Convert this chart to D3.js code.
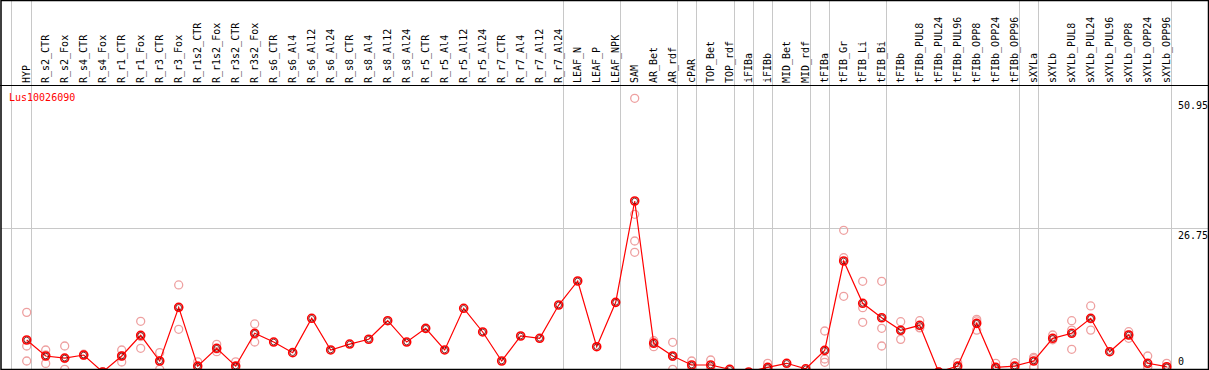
<!DOCTYPE html>
<html><head><meta charset="utf-8">
<script src="https://cdn.jsdelivr.net/npm/d3@7"></script>
<style>body{margin:0;background:#fff}svg{display:block}text{font-family:"DejaVu Sans Mono",monospace;font-size:10px}</style>
</head><body><svg id="c" width="1209" height="370"></svg>
<script>
const categories = ["HYP","R_s2_CTR","R_s2_Fox","R_s4_CTR","R_s4_Fox","R_r1_CTR","R_r1_Fox","R_r3_CTR","R_r3_Fox","R_r1s2_CTR","R_r1s2_Fox","R_r3s2_CTR","R_r3s2_Fox","R_s6_CTR","R_s6_Al4","R_s6_Al12","R_s6_Al24","R_s8_CTR","R_s8_Al4","R_s8_Al12","R_s8_Al24","R_r5_CTR","R_r5_Al4","R_r5_Al12","R_r5_Al24","R_r7_CTR","R_r7_Al4","R_r7_Al12","R_r7_Al24","LEAF_N","LEAF_P","LEAF_NPK","SAM","AR_Bet","AR_rdf","cPAR","TOP_Bet","TOP_rdf","iFIBa","iFIBb","MID_Bet","MID_rdf","tFIBa","tFIB_Gr","tFIB_Li","tFIB_Bi","tFIBb","tFIBb_PUL8","tFIBb_PUL24","tFIBb_PUL96","tFIBb_OPP8","tFIBb_OPP24","tFIBb_OPP96","sXYLa","sXYLb","sXYLb_PUL8","sXYLb_PUL24","sXYLb_PUL96","sXYLb_OPP8","sXYLb_OPP24","sXYLb_OPP96"];
const means = [5.96,2.98,2.6,3.16,0,2.98,6.83,2.05,12.04,1.1,4.41,1.1,7.2,5.58,3.6,10.0,4.1,5.2,6.1,9.55,5.58,8.13,4.1,11.86,7.45,2.05,6.7,6.27,12.47,16.94,4.71,12.97,31.83,5.34,2.98,1.3,1.3,0.5,0,0.87,1.62,0.6,4.03,20.66,12.79,10.1,7.76,8.69,0,1.1,9.06,0.87,1.1,2.05,6.27,7.2,10.0,3.78,6.89,1.62,0.99];
const replicates = {
  "HYP":[11.1,4.84,2.05], "R_s2_CTR":[4.1,1.6,3.2], "R_s2_Fox":[4.84,0.5,2.5], "R_s4_CTR":[3.3,3.1],
  "R_s4_Fox":[0,0], "R_r1_CTR":[4.1,1.86,3.0], "R_r1_Fox":[9.44,4.41,6.6], "R_r3_CTR":[3.6,0.5,2.0],
  "R_r3_Fox":[16.2,7.95,12.0], "R_r1s2_CTR":[1.9,0.7], "R_r1s2_Fox":[5.16,3.78,4.3], "R_r3s2_CTR":[1.9,0.7],
  "R_r3s2_Fox":[8.94,5.58,7.1], "SAM":[50.95,29.36,24.39,22.28], "AR_Bet":[5.83,4.71,5.5],
  "AR_rdf":[5.53,0.5,2.9], "cPAR":[2.05,0.9], "TOP_Bet":[2.23,0.8], "TOP_rdf":[0.5], "iFIBb":[1.6,0.5],
  "tFIBa":[7.63,2.42,1.8], "tFIB_Gr":[26.38,21.28,14.09], "tFIB_Li":[16.88,11.97,9.25],
  "tFIB_Bi":[16.88,8.13,4.84], "tFIBb":[9.37,6.08,7.8], "tFIBb_PUL8":[9.55,8.3,8.2], "tFIBb_PUL24":[0,0],
  "tFIBb_PUL96":[1.73,0.8], "tFIBb_OPP8":[9.8,7.8,9.5], "tFIBb_OPP24":[1.62,0.5], "tFIBb_OPP96":[1.73,0.6],
  "sXYLa":[2.73,0.87,2.5], "sXYLb":[6.89,6.0], "sXYLb_PUL8":[9.55,4.22,7.8], "sXYLb_PUL24":[12.3,7.8,9.9],
  "sXYLb_OPP8":[7.5,6.27,6.9], "sXYLb_OPP24":[2.98,1.0,0.9], "sXYLb_OPP96":[1.62,0.7]
};
const separatorsAfter = ["HYP","R_r7_Al24","LEAF_NPK","AR_rdf","cPAR","TOP_rdf","iFIBa","iFIBb","MID_rdf","tFIBa","tFIB_Bi","tFIBb_OPP96","sXYLa","sXYLb_OPP96"];
const yTicks = [0, 26.75, 50.95];
const gridTicks = [26.75];
const geneName = "Lus10026090";

const svg = d3.select("#c");
const W = 1209, H = 370, headerY = 85.5, bottomY = 369.5;
const x = d3.scalePoint().domain(categories).range([26.7, 1166.7]);
const y = d3.scaleLinear().domain([0, 50.95]).range([372, 98.3]);

// horizontal grid
svg.selectAll("line.hg").data(gridTicks).enter().append("line")
  .attr("x1", 1).attr("x2", W - 1)
  .attr("y1", d => Math.round(y(d)) + 0.5).attr("y2", d => Math.round(y(d)) + 0.5)
  .attr("stroke", "#c8c8c8").attr("stroke-width", 1);

// vertical separators
const sepX = [x("HYP") - 15.7].concat(separatorsAfter.map(c => x(c) + 4.3));
svg.selectAll("line.vg").data(sepX).enter().append("line")
  .attr("x1", d => Math.round(d) + 0.5).attr("x2", d => Math.round(d) + 0.5)
  .attr("y1", 0).attr("y2", H)
  .attr("stroke", "#c8c8c8").attr("stroke-width", 1);

// header labels
svg.selectAll("text.cat").data(categories).enter().append("text")
  .attr("transform", d => `translate(${x(d) + 3.5},83) rotate(-90)`)
  .attr("fill", "#000").text(d => d);

// y labels
svg.selectAll("text.yl").data(yTicks).enter().append("text")
  .attr("x", d => d === 0 ? 1178 : 1208)
  .attr("text-anchor", d => d === 0 ? "start" : "end")
  .attr("y", d => Math.min(y(d) + 11, 365))
  .attr("fill", "#000").text(d => d === 0 ? "0" : d.toFixed(2));

// replicate points
const repPts = [];
categories.forEach(c => (replicates[c] || []).forEach(v => repPts.push({c, v})));
svg.selectAll("circle.rep").data(repPts).enter().append("circle")
  .attr("cx", d => x(d.c)).attr("cy", d => y(d.v)).attr("r", 4)
  .attr("fill", "none").attr("stroke", "#eea0a0").attr("stroke-width", 1.3);

// mean line
const pts = categories.map((c, i) => ({c, v: means[i]}));
svg.append("path").datum(pts)
  .attr("d", d3.line().x(d => x(d.c)).y(d => y(d.v)))
  .attr("fill", "none").attr("stroke", "#ff0000").attr("stroke-width", 1.2);
svg.selectAll("circle.mean").data(pts).enter().append("circle")
  .attr("cx", d => x(d.c)).attr("cy", d => y(d.v)).attr("r", 4)
  .attr("fill", "none").attr("stroke", "#ff0000").attr("stroke-width", 1.6);
svg.selectAll("circle.meanIn").data(pts).enter().append("circle")
  .attr("cx", d => x(d.c)).attr("cy", d => y(d.v)).attr("r", 2.8)
  .attr("fill", "none").attr("stroke", "#600000").attr("stroke-width", 0.8);

// gene name
svg.append("text").attr("x", 9).attr("y", 101).attr("fill", "#ff0000").text(geneName);

// frame
svg.append("line").attr("x1", 0).attr("x2", W).attr("y1", headerY).attr("y2", headerY).attr("stroke", "#000");
svg.append("rect").attr("x", 1).attr("y", 0.5).attr("width", W - 1.5).attr("height", bottomY - 0.5)
  .attr("fill", "none").attr("stroke", "#000").attr("stroke-width", 1.5);
</script></body></html>
